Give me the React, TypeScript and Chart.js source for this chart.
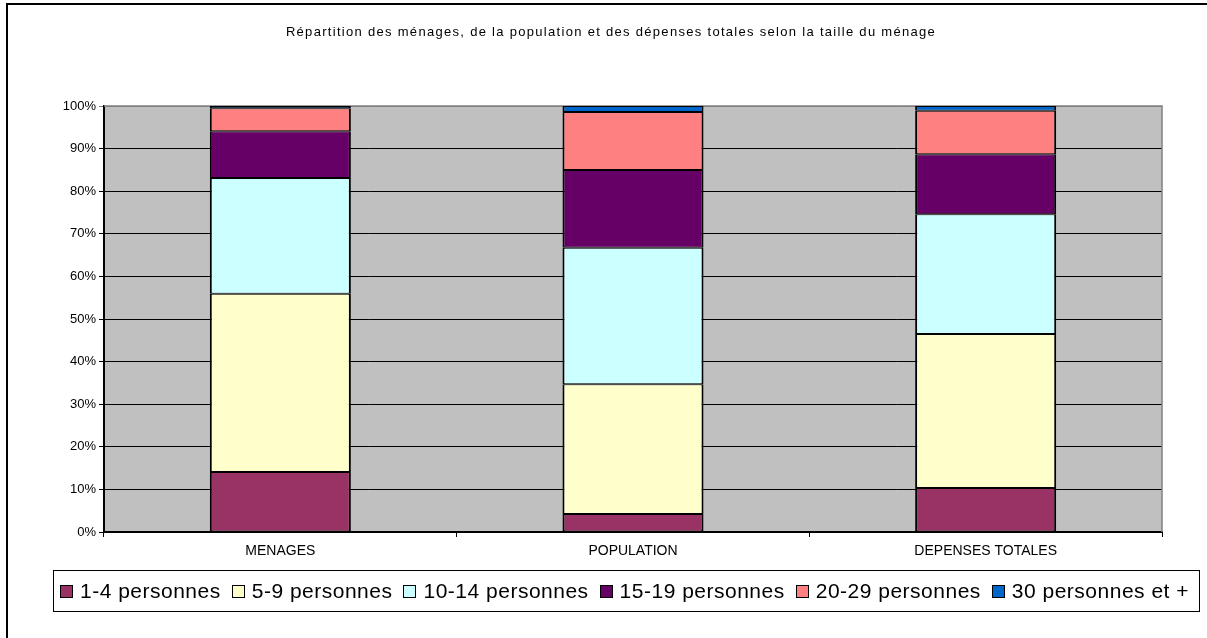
import React, { useEffect, useRef } from 'react';
import { Chart, registerables } from 'chart.js';

Chart.register(...registerables);

const chartTitle = 'Répartition des ménages, de la population et des dépenses totales selon la taille du ménage';
const categories = ['MENAGES', 'POPULATION', 'DEPENSES TOTALES'];
const seriesLabels = ['1-4 personnes', '5-9 personnes', '10-14 personnes', '15-19 personnes', '20-29 personnes', '30 personnes et +'];
const s1to4 = [14.1, 4.2, 10.3];
const s5to9 = [41.8, 30.5, 36.2];
const s10to14 = [27.2, 32.0, 28.1];
const s15to19 = [11.0, 18.3, 14.1];
const s20to29 = [5.4, 13.6, 10.2];
const s30plus = [0.5, 1.4, 1.1];
const seriesColors = ['#993366', '#FFFFCC', '#CCFFFF', '#660066', '#FF8080', '#0066CC'];
const yMin = 0;
const yMax = 100;
const yStep = 10;

const FONT = "'Liberation Sans', Arial, sans-serif";

const framePlugin = {
  id: 'frame',
  beforeDraw(chart: any) {
    const { ctx, chartArea: a } = chart;
    ctx.save();
    ctx.fillStyle = '#ffffff';
    ctx.fillRect(0, 0, chart.width, chart.height);
    ctx.fillStyle = '#C0C0C0';
    ctx.fillRect(a.left, a.top, a.right - a.left, a.bottom - a.top);
    ctx.strokeStyle = '#000000';
    ctx.lineWidth = 2;
    ctx.beginPath();
    ctx.moveTo(7, chart.height + 5);
    ctx.lineTo(7, 4);
    ctx.lineTo(chart.width + 5, 4);
    ctx.stroke();
    ctx.restore();
  },
  beforeDatasetsDraw(chart: any) {
    const { ctx, chartArea: a } = chart;
    ctx.save();
    ctx.strokeStyle = '#808080';
    ctx.lineWidth = 1.5;
    ctx.beginPath();
    ctx.moveTo(a.left, a.top);
    ctx.lineTo(a.right, a.top);
    ctx.lineTo(a.right, a.bottom);
    ctx.stroke();
    ctx.restore();
  },
  afterDraw(chart: any) {
    const { ctx } = chart;
    ctx.save();
    // title
    ctx.fillStyle = '#000000';
    ctx.font = `13px ${FONT}`;
    (ctx as any).letterSpacing = '1.3px';
    ctx.textAlign = 'center';
    ctx.textBaseline = 'middle';
    ctx.fillText(chartTitle, 611, 32);
    (ctx as any).letterSpacing = '0px';

    // legend box
    ctx.strokeStyle = '#000000';
    ctx.lineWidth = 1;
    ctx.strokeRect(53.5, 570.5, 1146, 41);

    ctx.font = `21px ${FONT}`;
    (ctx as any).letterSpacing = '0.5px';
    const boxSize = 12;
    const gapText = 8;
    const gapItem = 11;
    const items = chart.data.datasets.map((d: any) => ({
      label: d.label,
      color: d.backgroundColor,
      w: ctx.measureText(d.label).width,
    }));
    let total = 0;
    items.forEach((it: any, i: number) => {
      total += boxSize + gapText + it.w + (i < items.length - 1 ? gapItem : 0);
    });
    let x = 624.5 - total / 2;
    const cy = 591;
    ctx.textAlign = 'left';
    ctx.textBaseline = 'middle';
    items.forEach((it: any) => {
      ctx.fillStyle = it.color;
      ctx.fillRect(Math.round(x) + 0.5, cy - boxSize / 2 + 0.5, boxSize, boxSize);
      ctx.strokeStyle = '#000000';
      ctx.lineWidth = 1;
      ctx.strokeRect(Math.round(x) + 0.5, cy - boxSize / 2 + 0.5, boxSize, boxSize);
      x += boxSize + gapText;
      ctx.fillStyle = '#000000';
      ctx.fillText(it.label, x, cy + 1);
      x += it.w + gapItem;
    });
    ctx.restore();
  },
};

export default function App() {
  const ref = useRef<HTMLCanvasElement | null>(null);
  useEffect(() => {
    if (!ref.current) return;
    const series = [s1to4, s5to9, s10to14, s15to19, s20to29, s30plus];
    const chart = new Chart(ref.current, {
      type: 'bar',
      data: {
        labels: categories,
        datasets: series.map((data, i) => ({
          label: seriesLabels[i],
          data,
          backgroundColor: seriesColors[i],
          borderColor: '#000000',
          borderWidth: { top: 1, bottom: 1, left: 2, right: 2 },
          borderSkipped: false,
          barPercentage: 0.4,
          categoryPercentage: 1,
        })),
      },
      options: {
        responsive: false,
        animation: false,
        devicePixelRatio: 1,
        layout: { padding: { top: 106, right: 45, bottom: 76, left: 0 } },
        plugins: {
          legend: { display: false },
          title: { display: false },
          tooltip: { enabled: false },
        },
        scales: {
          x: {
            stacked: true,
            afterFit: (s: any) => { s.height = 30; },
            grid: { drawOnChartArea: false, drawTicks: true, tickLength: 5, color: '#000000', lineWidth: 1 },
            border: { display: true, color: '#000000', width: 2 },
            ticks: { color: '#000000', font: { family: FONT, size: 14 }, padding: 6, maxRotation: 0 },
          },
          y: {
            stacked: true,
            min: yMin,
            max: yMax,
            afterFit: (s: any) => { s.width = 104; },
            grid: {
              color: (c: any) => (c.tick && c.tick.value === yMax ? '#808080' : '#000000'),
              lineWidth: 1,
              tickLength: 5,
              drawTicks: true,
            },
            border: { display: true, color: '#000000', width: 2 },
            ticks: {
              stepSize: yStep,
              color: '#000000',
              font: { family: FONT, size: 13 },
              padding: 3,
              callback: (v: any) => `${v}%`,
            },
          },
        },
      },
      plugins: [framePlugin],
    });
    return () => chart.destroy();
  }, []);
  return (
    <div style={{ position: 'fixed', left: 0, top: 0, width: 1207, height: 638, background: '#fff' }}>
      <canvas ref={ref} width={1207} height={638} style={{ display: 'block' }} />
    </div>
  );
}
